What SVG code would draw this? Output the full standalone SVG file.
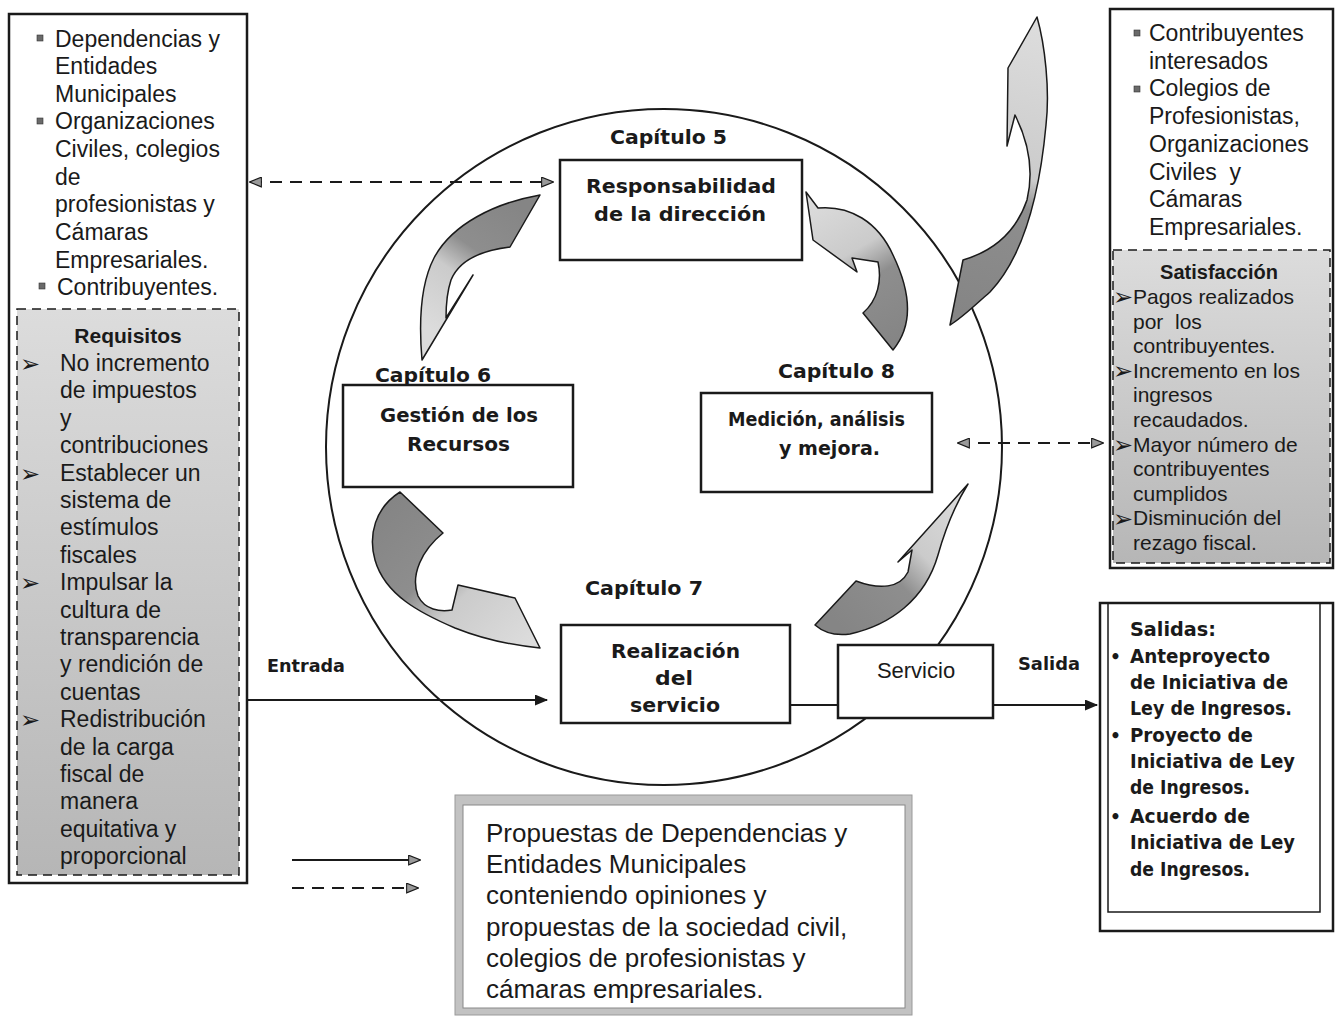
<svg xmlns="http://www.w3.org/2000/svg" width="1337" height="1017" viewBox="0 0 1337 1017">
<defs>
<style>
.t{font-family:"Liberation Sans",Arial,sans-serif;fill:#1a1a1a}
.s23{font-size:23px}
.s21{font-size:21px}
.s26{font-size:26px}
.g{font-family:"DejaVu Sans",sans-serif;font-weight:bold;fill:#1a1a1a;font-size:19px}
.gs{font-family:"DejaVu Sans",sans-serif;font-weight:bold;fill:#1a1a1a;font-size:17px}
.box{fill:#fff;stroke:#1a1a1a;stroke-width:2.5}
.frame{fill:none;stroke:#1a1a1a;stroke-width:2.5}
.ln{fill:none;stroke:#1a1a1a;stroke-width:2}
.dash{fill:none;stroke:#1a1a1a;stroke-width:2;stroke-dasharray:12 8}
.gray{fill:url(#gfill);stroke:#1a1a1a;stroke-width:1.5;stroke-dasharray:9 6}
.ca{stroke:#1a1a1a;stroke-width:1.5;stroke-linejoin:round}
.bul{fill:#6a6a6a;stroke:#333;stroke-width:0.6}
.arr{font-family:"DejaVu Sans",sans-serif;font-size:24px;fill:#1a1a1a}
</style>
<linearGradient id="gfill" x1="0" y1="0" x2="0" y2="1"><stop offset="0" stop-color="#dcdcdc"/><stop offset="1" stop-color="#b6b6b6"/></linearGradient>
<linearGradient id="g1" gradientUnits="userSpaceOnUse" x1="525" y1="210" x2="440" y2="335"><stop offset="0" stop-color="#858585"/><stop offset="0.4" stop-color="#8e8e8e"/><stop offset="0.6" stop-color="#cbcbcb"/><stop offset="1" stop-color="#dcdcdc"/></linearGradient>
<linearGradient id="g2" gradientUnits="userSpaceOnUse" x1="395" y1="500" x2="530" y2="640"><stop offset="0" stop-color="#858585"/><stop offset="0.4" stop-color="#8e8e8e"/><stop offset="0.6" stop-color="#cbcbcb"/><stop offset="1" stop-color="#dcdcdc"/></linearGradient>
<linearGradient id="g3" gradientUnits="userSpaceOnUse" x1="830" y1="615" x2="960" y2="490"><stop offset="0" stop-color="#858585"/><stop offset="0.4" stop-color="#8e8e8e"/><stop offset="0.6" stop-color="#cbcbcb"/><stop offset="1" stop-color="#dcdcdc"/></linearGradient>
<linearGradient id="g4" gradientUnits="userSpaceOnUse" x1="895" y1="340" x2="812" y2="200"><stop offset="0" stop-color="#858585"/><stop offset="0.4" stop-color="#8e8e8e"/><stop offset="0.6" stop-color="#cbcbcb"/><stop offset="1" stop-color="#dcdcdc"/></linearGradient>
<linearGradient id="g5" gradientUnits="userSpaceOnUse" x1="955" y1="310" x2="1035" y2="30"><stop offset="0" stop-color="#858585"/><stop offset="0.4" stop-color="#8e8e8e"/><stop offset="0.5" stop-color="#cbcbcb"/><stop offset="1" stop-color="#dcdcdc"/></linearGradient>
<marker id="mk" viewBox="0 0 12 10" refX="11" refY="5" markerWidth="14" markerHeight="11" markerUnits="userSpaceOnUse" orient="auto-start-reverse"><path d="M0,0 L12,5 L0,10 Z" fill="#1a1a1a"/></marker>
<marker id="mg" viewBox="0 0 12 10" refX="11" refY="5" markerWidth="13" markerHeight="11" markerUnits="userSpaceOnUse" orient="auto-start-reverse"><path d="M0.5,0.5 L11.5,5 L0.5,9.5 Z" fill="#9a9a9a" stroke="#1a1a1a" stroke-width="1"/></marker>
</defs>
<rect width="1337" height="1017" fill="#fff"/>

<!-- cycle circle -->
<g id="ciclo">
<ellipse cx="664" cy="447" rx="338" ry="338" fill="none" stroke="#1a1a1a" stroke-width="2"/>
</g>

<!-- curved block arrows -->
<g id="flechas-ciclo">
<path class="ca" fill="url(#g1)" d="M540,195 L510,247 C485,250 460,258 451,280 C446,295 446,308 446,318 L473,275 L422,360 C419,325 420,285 434,258 C452,224 495,203 540,195 Z"/>
<path class="ca" fill="url(#g2)" d="M400,492 L443,533 C422,550 410,575 418,596 C425,610 440,612 452,610 L458,585 L515,598 L540,648 C510,645 480,638 455,628 C420,613 385,595 375,560 C368,535 375,508 400,492 Z"/>
<path class="ca" fill="url(#g3)" d="M815,625 L856,581 C880,590 900,588 908,572 L912,550 L898,562 L968,484 C955,505 945,530 938,555 C925,600 890,625 850,634 C835,636 823,632 815,625 Z"/>
<path class="ca" fill="url(#g4)" d="M806,192 L818,208 C850,205 878,222 893,255 C906,282 918,320 893,350 L863,313 C878,300 882,280 878,262 L852,258 L857,272 L813,240 Z"/>
<path class="ca" fill="url(#g5)" d="M950,325 L963,260 C990,252 1015,235 1027,200 C1033,175 1030,145 1015,115 L1007,146 L1008,68 L1037,17 C1045,45 1050,90 1046,125 C1040,190 1025,255 990,292 C975,305 962,318 950,325 Z"/>
</g>

<!-- left panel -->
<g id="partes-interesadas">
<rect class="frame" x="9" y="14" width="238" height="869"/>
<rect class="bul" x="37" y="35" width="6" height="6"/>
<rect class="bul" x="37" y="118" width="6" height="6"/>
<rect class="bul" x="39" y="283" width="6" height="6"/>
<text class="t s23" x="55" y="47">Dependencias y</text>
<text class="t s23" x="55" y="74">Entidades</text>
<text class="t s23" x="55" y="102">Municipales</text>
<text class="t s23" x="55" y="129">Organizaciones</text>
<text class="t s23" x="55" y="157">Civiles, colegios</text>
<text class="t s23" x="55" y="185">de</text>
<text class="t s23" x="55" y="212">profesionistas y</text>
<text class="t s23" x="55" y="240">Cámaras</text>
<text class="t s23" x="55" y="268">Empresariales.</text>
<text class="t s23" x="57" y="295">Contribuyentes.</text>
</g>

<g id="requisitos">
<rect class="gray" x="17" y="309" width="222" height="566"/>
<text class="t" x="128" y="343" font-size="21" font-weight="bold" text-anchor="middle">Requisitos</text>
<text class="arr" x="20" y="372">➢</text>
<text class="arr" x="20" y="482">➢</text>
<text class="arr" x="20" y="591">➢</text>
<text class="arr" x="20" y="728">➢</text>
<g class="t s23" fill="#2a2a2a">
<text x="60" y="371">No incremento</text>
<text x="60" y="398">de impuestos</text>
<text x="60" y="426">y</text>
<text x="60" y="453">contribuciones</text>
<text x="60" y="481">Establecer un</text>
<text x="60" y="508">sistema de</text>
<text x="60" y="535">estímulos</text>
<text x="60" y="563">fiscales</text>
<text x="60" y="590">Impulsar la</text>
<text x="60" y="618">cultura de</text>
<text x="60" y="645">transparencia</text>
<text x="60" y="672">y rendición de</text>
<text x="60" y="700">cuentas</text>
<text x="60" y="727">Redistribución</text>
<text x="60" y="755">de la carga</text>
<text x="60" y="782">fiscal de</text>
<text x="60" y="809">manera</text>
<text x="60" y="837">equitativa y</text>
<text x="60" y="864">proporcional</text>
</g>
</g>

<!-- right top panel -->
<g id="clientes">
<rect class="frame" x="1110" y="9" width="223" height="559"/>
<rect class="bul" x="1134" y="30" width="6" height="6"/>
<rect class="bul" x="1134" y="86" width="6" height="6"/>
<text class="t s23" x="1149" y="41">Contribuyentes</text>
<text class="t s23" x="1149" y="69">interesados</text>
<text class="t s23" x="1149" y="96">Colegios de</text>
<text class="t s23" x="1149" y="124">Profesionistas,</text>
<text class="t s23" x="1149" y="152">Organizaciones</text>
<text class="t s23" x="1149" y="180" xml:space="preserve">Civiles  y</text>
<text class="t s23" x="1149" y="207">Cámaras</text>
<text class="t s23" x="1149" y="235">Empresariales.</text>
</g>

<g id="satisfaccion">
<rect class="gray" x="1113" y="250" width="217" height="313"/>
<text class="t" x="1219" y="279" font-size="20" font-weight="bold" text-anchor="middle">Satisfacción</text>
<text class="arr" x="1113" y="305" font-size="19">➢</text>
<text class="arr" x="1113" y="379" font-size="19">➢</text>
<text class="arr" x="1113" y="453" font-size="19">➢</text>
<text class="arr" x="1113" y="527" font-size="19">➢</text>
<g class="t s21" fill="#2a2a2a">
<text x="1133" y="304">Pagos realizados</text>
<text x="1133" y="329" xml:space="preserve">por  los</text>
<text x="1133" y="353">contribuyentes.</text>
<text x="1133" y="378">Incremento en los</text>
<text x="1133" y="402">ingresos</text>
<text x="1133" y="427">recaudados.</text>
<text x="1133" y="452">Mayor número de</text>
<text x="1133" y="476">contribuyentes</text>
<text x="1133" y="501">cumplidos</text>
<text x="1133" y="525">Disminución del</text>
<text x="1133" y="550">rezago fiscal.</text>
</g>
</g>

<!-- Salidas -->
<g id="salidas">
<rect class="frame" x="1100" y="603" width="233" height="328"/>
<path d="M1108,603 V912 H1320 V603" fill="none" stroke="#1a1a1a" stroke-width="1.5"/>
<text class="gs" x="1110" y="663" font-size="18">•</text>
<text class="gs" x="1110" y="742" font-size="18">•</text>
<text class="gs" x="1110" y="823" font-size="18">•</text>
<text class="g" x="1130" y="636" textLength="86" lengthAdjust="spacingAndGlyphs">Salidas:</text>
<text class="g" x="1130" y="663" textLength="140" lengthAdjust="spacingAndGlyphs">Anteproyecto</text>
<text class="g" x="1130" y="689" textLength="158" lengthAdjust="spacingAndGlyphs">de Iniciativa de</text>
<text class="g" x="1130" y="715" textLength="162" lengthAdjust="spacingAndGlyphs">Ley de Ingresos.</text>
<text class="g" x="1130" y="742" textLength="123" lengthAdjust="spacingAndGlyphs">Proyecto de</text>
<text class="g" x="1130" y="768" textLength="165" lengthAdjust="spacingAndGlyphs">Iniciativa de Ley</text>
<text class="g" x="1130" y="794" textLength="120" lengthAdjust="spacingAndGlyphs">de Ingresos.</text>
<text class="g" x="1130" y="823" textLength="120" lengthAdjust="spacingAndGlyphs">Acuerdo de</text>
<text class="g" x="1130" y="849" textLength="165" lengthAdjust="spacingAndGlyphs">Iniciativa de Ley</text>
<text class="g" x="1130" y="876" textLength="120" lengthAdjust="spacingAndGlyphs">de Ingresos.</text>
</g>

<!-- process boxes -->
<g id="cap5">
<text class="g" x="610" y="144" textLength="117" lengthAdjust="spacingAndGlyphs">Capítulo 5</text>
<rect class="box" x="560" y="160" width="242" height="100"/>
<text class="g" x="586" y="193" textLength="190" lengthAdjust="spacingAndGlyphs">Responsabilidad</text>
<text class="g" x="594" y="221" textLength="172" lengthAdjust="spacingAndGlyphs">de la dirección</text>
</g>
<g id="cap6">
<rect class="box" x="343" y="385" width="230" height="102"/>
<text class="g" x="375" y="382" textLength="116" lengthAdjust="spacingAndGlyphs">Capítulo 6</text>
<text class="g" x="380" y="422" textLength="158" lengthAdjust="spacingAndGlyphs">Gestión de los</text>
<text class="g" x="407" y="451" textLength="103" lengthAdjust="spacingAndGlyphs">Recursos</text>
</g>
<g id="cap8">
<text class="g" x="778" y="378" textLength="117" lengthAdjust="spacingAndGlyphs">Capítulo 8</text>
<rect class="box" x="701" y="393" width="231" height="99"/>
<text class="g" x="728" y="426" textLength="177" lengthAdjust="spacingAndGlyphs">Medición, análisis</text>
<text class="g" x="779" y="455" textLength="101" lengthAdjust="spacingAndGlyphs">y mejora.</text>
</g>
<g id="cap7">
<text class="g" x="585" y="595" textLength="118" lengthAdjust="spacingAndGlyphs">Capítulo 7</text>
<rect class="box" x="561" y="625" width="229" height="98"/>
<text class="g" x="611" y="658" textLength="129" lengthAdjust="spacingAndGlyphs">Realización</text>
<text class="g" x="655" y="685" textLength="38" lengthAdjust="spacingAndGlyphs">del</text>
<text class="g" x="630" y="712" textLength="90" lengthAdjust="spacingAndGlyphs">servicio</text>
</g>
<g id="servicio">
<rect class="box" x="838" y="645" width="155" height="73"/>
<text class="t" x="916" y="678" font-size="22" text-anchor="middle">Servicio</text>
</g>

<!-- connectors -->
<g id="conectores">
<path class="dash" d="M250,182 H553" marker-start="url(#mg)" marker-end="url(#mg)"/>
<path class="dash" d="M958,443 H1103" marker-start="url(#mg)" marker-end="url(#mg)"/>
<path class="ln" d="M247,700 H547" marker-end="url(#mk)"/>
<path class="ln" d="M790,705 H838"/>
<path class="ln" d="M993,705 H1097" marker-end="url(#mk)"/>
<path class="ln" d="M292,860 H420" marker-end="url(#mg)"/>
<path class="dash" d="M292,888 H418" marker-end="url(#mg)"/>
</g>
<text class="gs" x="267" y="672" textLength="78" lengthAdjust="spacingAndGlyphs">Entrada</text>
<text class="gs" x="1018" y="670" textLength="62" lengthAdjust="spacingAndGlyphs">Salida</text>

<!-- bottom note -->
<g id="propuestas">
<rect x="455" y="795" width="457" height="220" fill="#c2c2c2" stroke="#9a9a9a" stroke-width="1"/>
<rect x="463" y="805" width="442" height="203" fill="#fff" stroke="#888" stroke-width="1"/>
<text class="t s26" x="486" y="842">Propuestas de Dependencias y</text>
<text class="t s26" x="486" y="873">Entidades Municipales</text>
<text class="t s26" x="486" y="904">conteniendo opiniones y</text>
<text class="t s26" x="486" y="936">propuestas de la sociedad civil,</text>
<text class="t s26" x="486" y="967">colegios de profesionistas y</text>
<text class="t s26" x="486" y="998">cámaras empresariales.</text>
</g>
</svg>
